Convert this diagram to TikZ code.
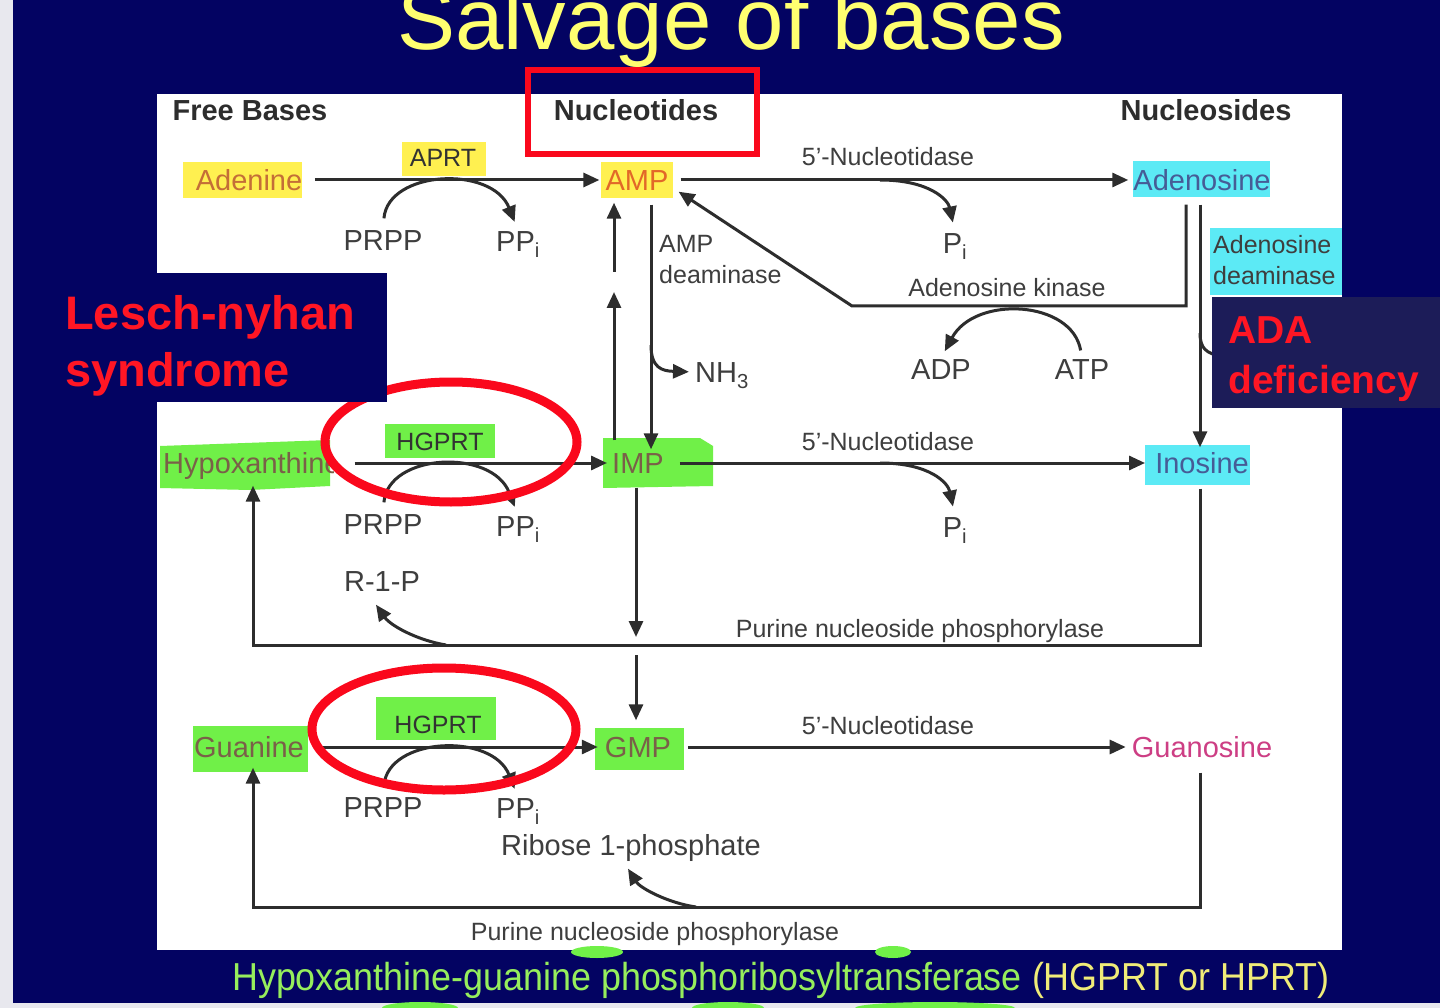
\documentclass[tikz,border=0pt]{standalone}
\usepackage{fontspec}
\setmainfont{Liberation Sans}
\usepackage{graphicx}
\usetikzlibrary{arrows.meta,calc}
\definecolor{navy}{RGB}{3,3,98}
\definecolor{adabox}{RGB}{28,28,88}
\definecolor{edgecol}{RGB}{232,232,238}
\definecolor{labcol}{RGB}{62,62,62}
\definecolor{hdrcol}{RGB}{45,45,45}
\definecolor{linecol}{RGB}{45,45,45}
\definecolor{yhl}{RGB}{255,240,80}
\definecolor{ghl}{RGB}{112,240,72}
\definecolor{chl}{RGB}{92,234,245}
\definecolor{adetext}{RGB}{196,110,55}
\definecolor{amptext}{RGB}{226,104,40}
\definecolor{gtext}{RGB}{122,96,72}
\definecolor{ctext}{RGB}{70,92,150}
\definecolor{pinktext}{RGB}{205,62,132}
\definecolor{titlecol}{RGB}{255,255,112}
\definecolor{redmark}{RGB}{250,8,28}
\definecolor{redtext}{RGB}{255,22,36}
\definecolor{fgreen}{RGB}{150,238,92}
\definecolor{fyellow}{RGB}{240,236,120}
\begin{document}
\begin{tikzpicture}[x=1pt,y=-1pt,
  lab/.style={font=\fontsize{29}{34}\selectfont, text=labcol, inner sep=0pt, text height=21pt, text depth=0pt},
  enz/.style={font=\fontsize{25}{30}\selectfont, text=labcol, inner sep=0pt, text height=18pt, text depth=0pt},
  enztwo/.style={font=\fontsize{25}{31}\selectfont, text=labcol, inner sep=0pt, align=left},
  hdr/.style={font=\fontsize{29}{34}\selectfont\bfseries, text=hdrcol, inner sep=0pt, text height=21pt, text depth=0pt},
  conn/.style={draw=linecol, line width=3pt},
  arr/.style={conn, -{Triangle[length=16pt,width=14pt]}},
  redring/.style={draw=redmark, line width=9pt},
  disease/.style={font=\fontsize{47}{53}\selectfont\bfseries, text=redtext, inner sep=0pt, anchor=base west}
]
\useasboundingbox (0,0) rectangle (1440,1008);
\clip (0,0) rectangle (1440,1008);
% background
\fill[navy] (0,0) rectangle (1440,1008);
\fill[edgecol] (0,0) rectangle (13,1008);
\fill[edgecol] (0,1003) rectangle (1440,1008);
\fill[white] (157,94) rectangle (1342,950);
% stray highlighter marks near the footer
\fill[ghl] (597,952) ellipse [x radius=26pt, y radius=6pt];
\fill[ghl] (893,952) ellipse [x radius=18pt, y radius=6pt];
\fill[ghl] (420,1008) ellipse [x radius=38pt, y radius=6pt];
\fill[ghl] (728,1008) ellipse [x radius=36pt, y radius=6pt];
\fill[ghl] (935,1008) ellipse [x radius=80pt, y radius=6pt];
% title
\node[font=\fontsize{87}{100}\selectfont, text=titlecol, inner sep=0pt, anchor=base] (title) at (731,50) {Salvage of bases};
% highlights
\fill[yhl] (183,162) rectangle (302,198);
\fill[yhl] (402,142) rectangle (486,176);
\fill[yhl] (601,162) rectangle (673,198);
\fill[chl] (1133,161) rectangle (1270,197);
\fill[chl] (1210,228) rectangle (1342,295);
\fill[ghl] (160,446) -- (330,440) -- (330,486) -- (250,490) -- (160,488) -- cycle;
\fill[ghl] (385,424) rectangle (495,458);
\fill[ghl] (603,438) -- (700,438) -- (713,446) -- (713,486) -- (603,488) -- cycle;
\fill[chl] (1145,445) rectangle (1250,485);
\fill[ghl] (193,726) rectangle (308,772);
\fill[ghl] (376,697) rectangle (496,740);
\fill[ghl] (595,728) rectangle (684,770);
% headers
\node[hdr] (hfree) at (250,110) {Free Bases};
\node[hdr] (hnucleotides) at (636,110) {Nucleotides};
\node[hdr] (hnucleosides) at (1206,110) {Nucleosides};
% row 1
\node[lab, text=adetext] (adenine) at (249,180) {Adenine};
\node[enz, text=labcol!80!black] (aprt) at (443,158) {APRT};
\node[lab, text=amptext] (amp) at (637,180) {AMP};
\node[lab] (prpp1) at (383,240) {PRPP};
\node[lab] (ppi1) at (518,241) {PP\textsubscript{i}};
\node[enz] (nt1) at (888,157) {5'-Nucleotidase};
\node[lab] (pi1) at (955,243) {P\textsubscript{i}};
\node[lab, text=ctext] (adenosine) at (1202,180) {Adenosine};
\node[enztwo, anchor=north west] (ampdeam) at (659,235) {AMP\\deaminase};
\node[enz] (adokin) at (1007,288) {Adenosine kinase};
\node[enztwo, anchor=north west] (adadeam) at (1213,235) {Adenosine\\deaminase};
\node[lab] (nh3) at (722,372) {NH\textsubscript{3}};
\node[lab] (adp) at (941,369) {ADP};
\node[lab] (atp) at (1082,369) {ATP};
% row 2
\node[lab, text=gtext, anchor=west] (hypox) at (163,463) {Hypoxanthine};
\fill[white] (334,446) rectangle (349,482);
\node[enz, text=labcol!80!black] (hgprt1) at (440,441) {HGPRT};
\node[lab, text=gtext] (imp) at (638,463) {IMP};
\node[lab] (prpp2) at (383,524) {PRPP};
\node[lab] (ppi2) at (518,526) {PP\textsubscript{i}};
\node[lab] (r1p) at (382,581) {R-1-P};
\node[enz] (nt2) at (888,441) {5'-Nucleotidase};
\node[lab] (pi2) at (955,527) {P\textsubscript{i}};
\node[lab, text=ctext] (inosine) at (1202,463) {Inosine};
\node[enz] (pnp1) at (920,628) {Purine nucleoside phosphorylase};
% row 3
\node[lab, text=gtext] (guanine) at (249,747) {Guanine};
\node[enz, text=labcol!80!black] (hgprt2) at (438,724) {HGPRT};
\node[lab, text=gtext] (gmp) at (638,747) {GMP};
\node[lab] (prpp3) at (383,807) {PRPP};
\node[lab] (ppi3) at (518,808) {PP\textsubscript{i}};
\node[lab] (ribose) at (631,845) {Ribose 1-phosphate};
\node[enz] (nt3) at (888,725) {5'-Nucleotidase};
\node[lab, text=pinktext] (guanosine) at (1202,747) {Guanosine};
\node[enz] (pnp2) at (655,931) {Purine nucleoside phosphorylase};
% helper coordinates
\coordinate (xd) at (651,0);
\coordinate (xu) at (614,0);
\coordinate (xg) at (636,0);
\coordinate (xa) at (1200,0);
\coordinate (xk) at (1186,0);
\coordinate (ak1) at (1186,306);
\coordinate (ak2) at (852,306);
\coordinate (nhb) at (651,345);
\coordinate (up1) at (614,292);
\coordinate (up2) at (614,272);
\coordinate (dn1) at (636,637);
\coordinate (dn2) at (636,655);
\coordinate (p1r) at (1200,645);
\coordinate (p1l) at (253,645);
\coordinate (p2r) at (1200,907);
\coordinate (p2l) at (253,907);
\coordinate (n1) at (880,180);
\coordinate (n2) at (880,463);
\coordinate (r1b) at (446,645);
\coordinate (r2b) at (696,907);
\coordinate (adab) at (1200,333);
\coordinate (adae) at (1222,356);
% connectors, row 1
\draw[arr, shorten <=12.5pt, shorten >=6pt] (adenine) -- (amp);
\draw[arr, shorten <=11pt, shorten >=9pt] (prpp1.north) .. controls (388,170) and (492,165) .. (ppi1.north);
\draw[arr, shorten <=12pt, shorten >=5pt] (amp) -- (adenosine);
\draw[arr, shorten >=10pt] (n1) .. controls (930,180) and (948,200) .. (pi1.north);
\draw[arr, shorten <=14pt] (adenosine.south -| xk) -- (ak1) -- (ak2) -- ([xshift=10pt,yshift=-1pt]amp.south east);
\draw[arr, shorten <=8pt, shorten >=8pt] (atp.north) .. controls (1072,300) and (975,295) .. (adp.north);
\draw[arr, shorten <=14pt, shorten >=3pt] (amp.south -| xd) -- (imp.north -| xd);
\draw[arr, shorten >=6pt] (nhb) .. controls (651,368) and (662,371) .. (nh3.west);
\draw[arr, shorten <=12pt] (imp.north -| xu) -- (up1);
\draw[arr, shorten >=12pt] (up2) -- (amp.south -| xu);
\draw[conn] (adab) .. controls (1200,348) and (1206,354) .. (adae);
\draw[arr, shorten <=14pt, shorten >=5pt] (adenosine.south -| xa) -- (inosine.north -| xa);
% row 2
\draw[arr, shorten <=14pt, shorten >=5pt] (hypox) -- (imp);
\draw[arr, shorten <=11pt, shorten >=9pt] (prpp2.north) .. controls (388,453) and (492,448) .. (ppi2.north);
\draw[arr, shorten <=16pt, shorten >=10pt] (imp) -- (inosine);
\draw[arr, shorten >=10pt] (n2) .. controls (930,463) and (948,483) .. (pi2.north);
\draw[arr, shorten <=15pt, shorten >=12pt] (inosine.south -| xa) -- (p1r) -- (p1l) -- (hypox.south -| p1l);
\draw[arr] (r1b) .. controls (416,640) and (390,625) .. ([xshift=-6pt,yshift=-13pt]r1p.south);
\draw[arr, shorten <=14pt] (imp.south -| xg) -- (dn1);
\draw[arr, shorten >=16pt] (dn2) -- (gmp.north -| xg);
% row 3
\draw[arr, shorten <=14pt, shorten >=7pt] (guanine) -- (gmp);
\draw[arr, shorten <=11pt, shorten >=9pt] (prpp3.north) .. controls (388,737) and (492,732) .. (ppi3.north);
\draw[arr, shorten <=17pt, shorten >=6pt] (gmp) -- (guanosine);
\draw[arr, shorten <=15pt, shorten >=10pt] (guanosine.south -| xa) -- (p2r) -- (p2l) -- (guanine.south -| p2l);
\draw[arr] (r2b) .. controls (668,903) and (640,888) .. ([xshift=-3pt,yshift=-13pt]ribose.south);
% red marks
\draw[draw=redmark, line width=6pt] (528,70) rectangle (757,154);
\draw[redring] (451,442) ellipse [x radius=126pt, y radius=60pt];
\draw[redring] (444,729) ellipse [x radius=132pt, y radius=61pt];
% disease boxes
\fill[navy] (157,273) rectangle (387,402);
\node[disease] (lesch1) at (65,329) {Lesch-nyhan};
\node[disease] (lesch2) at (65,386) {syndrome};
\fill[adabox] (1212,297) rectangle (1440,408);
\node[disease, font=\fontsize{39}{45}\selectfont\bfseries] (ada1) at (1228,343) {ADA};
\node[disease, font=\fontsize{39}{45}\selectfont\bfseries] (ada2) at (1228,393) {deficiency};
% footer
\node[font=\fontsize{39}{45}\selectfont, inner sep=0pt, anchor=base west] (footer) at (232,990)
  {\scalebox{0.92}[1]{\textcolor{fgreen}{Hypoxanthine-guanine phosphoribosyltransferase} \textcolor{fyellow}{(HGPRT or HPRT)}}};
\end{tikzpicture}
\end{document}
